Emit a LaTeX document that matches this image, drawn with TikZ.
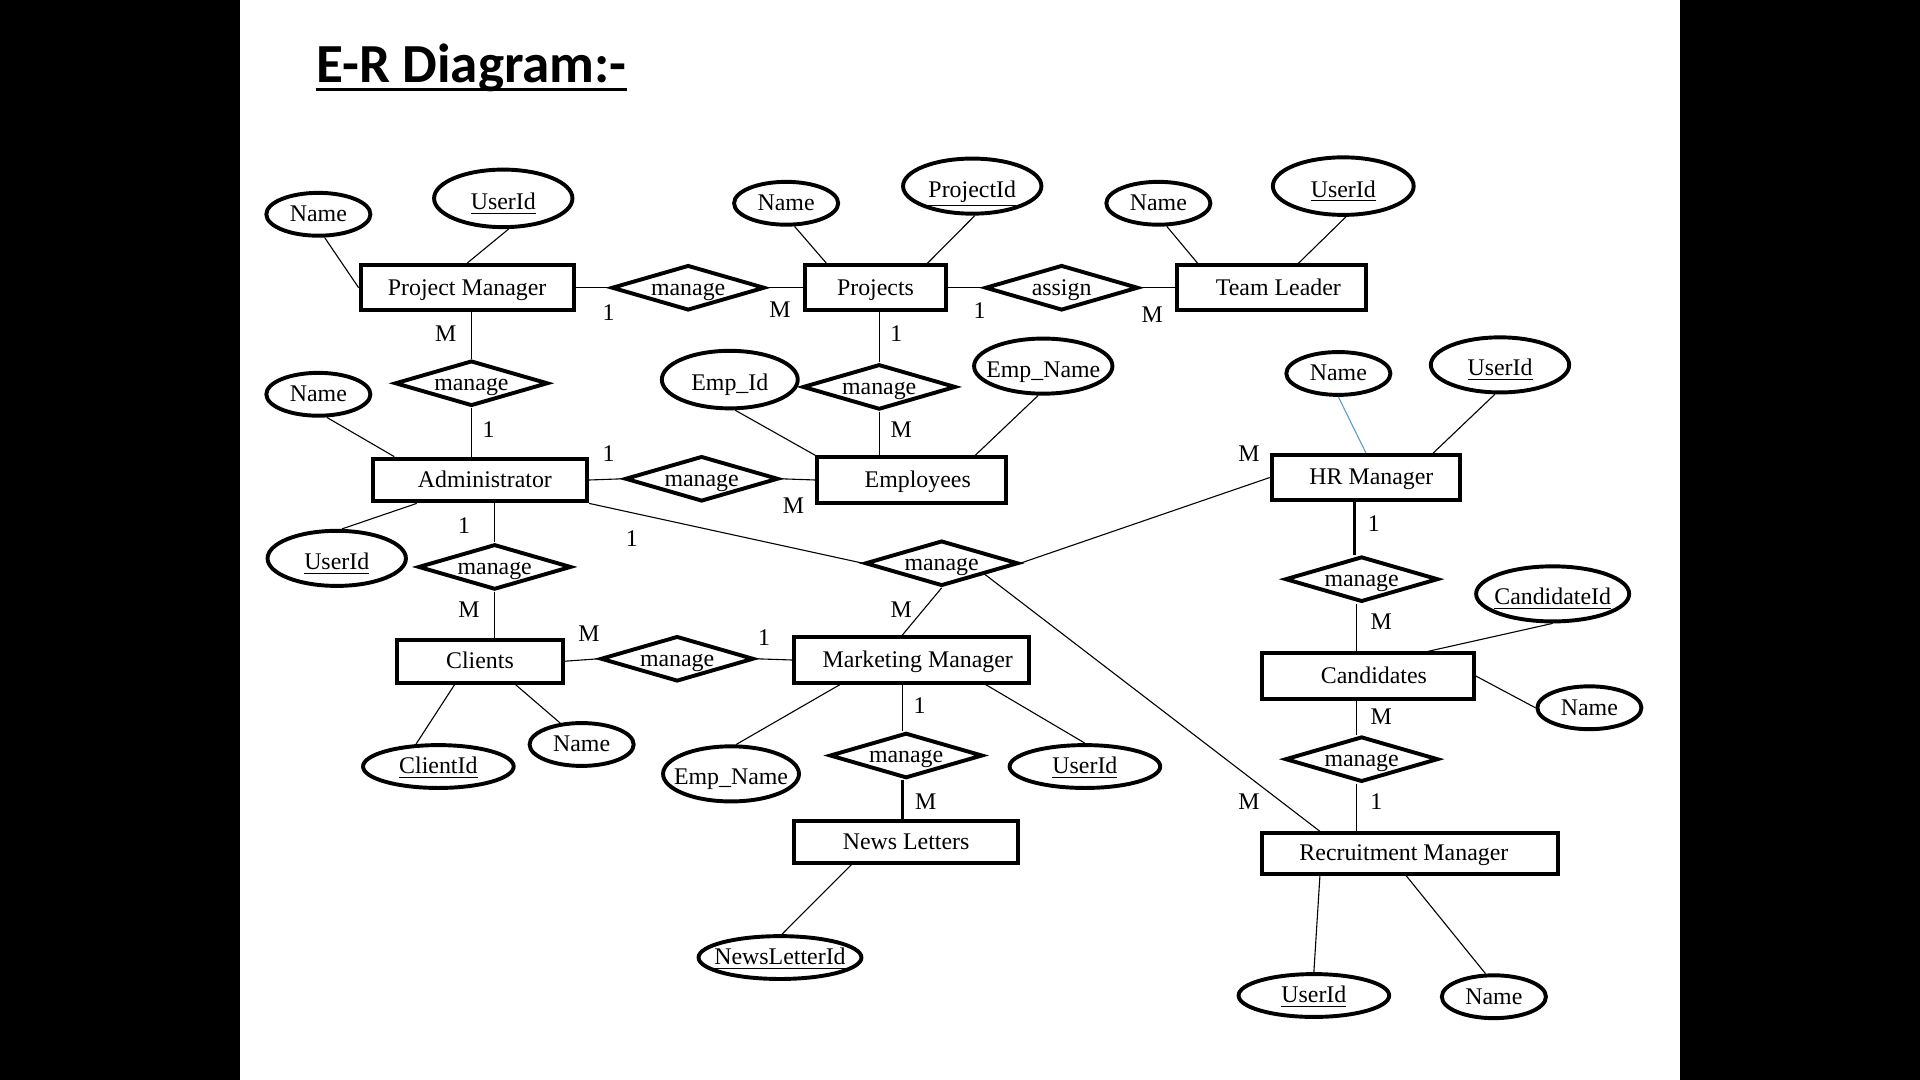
\documentclass[tikz,border=0pt]{standalone}
\usepackage{fontspec}
\setmainfont{Liberation Serif}
\newfontfamily\titlefont{Carlito}
\usetikzlibrary{shapes.geometric,calc}
\newcommand\zb[1]{\makebox[0pt]{#1}}
\newcommand\sh[2]{\hbox to 0pt{\hss\kern#1\kern#1 #2\hss}}
\definecolor{hrblue}{RGB}{91,155,213}
\begin{document}
\begin{tikzpicture}[x=0.5pt,y=-0.5pt,
 every node/.style={font=\fontsize{9.75}{11}\selectfont, text height=7.3pt, text depth=1.3pt},
 ent/.style={draw, rectangle, line width=1.6pt, inner sep=0pt},
 rel/.style={draw, diamond, aspect=3.4, line width=1.6pt, inner sep=0pt, minimum width=62.5pt, minimum height=18.5pt},
 att/.style={draw, ellipse, line width=1.6pt, inner sep=0pt},
 big/.style={att, text height=10.3pt},
 sm/.style={att, minimum width=42.5pt, minimum height=17.5pt},
 lnk/.style={line width=0.45pt},
 card/.style={inner sep=0pt}]

\useasboundingbox (0,0) rectangle (1568,882);
\fill[white] (0,0) rectangle (1568,882);
\fill[black] (0,0) rectangle (196,882);
\fill[black] (1372,0) rectangle (1568,882);

% title
\node[anchor=base west, inner sep=0pt, text height=, text depth=, font=\titlefont\bfseries\fontsize{22.5}{26}\selectfont] (title) at (258,67) {E-R Diagram:-};
\draw[line width=1.3pt] ($(title.base west)+(0,6)$) -- ($(title.base east)+(0,6)$);

% entities
\node[ent, minimum width=87pt, minimum height=18.5pt] (pm) at (381.5,235) {Project Manager};
\node[ent, minimum width=57.5pt, minimum height=18.5pt] (proj) at (715,235) {Projects};
\node[ent, minimum width=77pt, minimum height=18.5pt] (tl) at (1038.5,235) {\sh{2.75pt}{Team Leader}};
\node[ent, minimum width=87.5pt, minimum height=17.5pt] (adm) at (392,392) {\sh{2pt}{Administrator}};
\node[ent, minimum width=77pt, minimum height=18.5pt] (emp) at (744.5,392) {\sh{2.5pt}{Employees}};
\node[ent, minimum width=77pt, minimum height=18.5pt] (hr) at (1115.5,390) {\sh{2.25pt}{HR Manager}};
\node[ent, minimum width=67.5pt, minimum height=17.5pt] (cl) at (392,540) {Clients};
\node[ent, minimum width=96pt, minimum height=18.5pt] (mm) at (744.5,539) {\sh{2.5pt}{Marketing Manager}};
\node[ent, minimum width=86.5pt, minimum height=18.5pt] (cand) at (1117,552) {\sh{2.5pt}{Candidates}};
\node[ent, minimum width=91.5pt, minimum height=17pt] (nl) at (740,687.5) {News Letters};
\node[ent, minimum width=121pt, minimum height=16.5pt] (rm) at (1151.5,697) {\sh{-2.5pt}{Recruitment Manager}};

% relationships
\node[rel] (r1) at (562,235) {manage};
\node[rel] (ras) at (867,235) {assign};
\node[rel] (r2) at (385,313) {manage};
\node[rel] (r3) at (718,316) {manage};
\node[rel] (r4) at (573,391) {manage};
\node[rel] (r5) at (404,463) {manage};
\node[rel] (r6) at (769,460) {manage};
\node[rel] (r7) at (1112,473) {manage};
\node[rel] (r9) at (553,538) {manage};
\node[rel] (r10) at (740,617) {manage};
\node[rel] (r8) at (1112,620) {manage};

% attributes
\node[sm] (pmn) at (260,175) {\zb{Name}};
\node[big, minimum width=56.5pt, minimum height=23.5pt] (pmu) at (411,162) {\zb{\underline{UserId}}};
\node[sm] (pn) at (642,166) {\zb{Name}};
\node[big, minimum width=56.5pt, minimum height=22.5pt] (pid) at (794,152) {\zb{\underline{ProjectId}}};
\node[sm] (tln) at (946,166) {\zb{Name}};
\node[big, minimum width=57.5pt, minimum height=23.5pt] (tlu) at (1097,152) {\zb{\underline{UserId}}};
\node[sm] (an) at (260,322) {\zb{Name}};
\node[big, minimum width=55.5pt, minimum height=23.5pt] (eid) at (596,310) {\zb{Emp\_Id}};
\node[big, minimum width=56.5pt, minimum height=22.5pt] (en) at (852,299) {\zb{Emp\_Name}};
\node[sm] (hrn) at (1093,305) {\zb{Name}};
\node[big, minimum width=56.5pt, minimum height=22.5pt] (hru) at (1225,298) {\zb{\underline{UserId}}};
\node[big, minimum width=56.5pt, minimum height=22.5pt] (auid) at (275,456) {\zb{\underline{UserId}}};
\node[big, minimum width=62.5pt, minimum height=22.5pt] (cid) at (1268,485) {\zb{\underline{CandidateId}}};
\node[att, minimum width=61.5pt, minimum height=17.5pt] (clid) at (358,626) {\zb{\underline{ClientId}}};
\node[sm] (cln) at (475,608) {\zb{Name}};
\node[big, minimum width=55.5pt, minimum height=22.5pt] (men) at (597,632) {\zb{Emp\_Name}};
\node[att, minimum width=61.5pt, minimum height=17.5pt] (mmu) at (886,626) {\zb{\underline{UserId}}};
\node[sm] (cn) at (1298,578) {\zb{Name}};
\node[att, minimum width=66.5pt, minimum height=17.5pt] (nlid) at (637,782) {\zb{\underline{NewsLetterId}}};
\node[att, minimum width=61.5pt, minimum height=17.5pt] (rmu) at (1073,813) {\zb{\underline{UserId}}};
\node[sm] (rmn) at (1220,814) {\zb{Name}};

% connectors
\draw[lnk] (pmn.-75) -- (pm.west);
\draw[lnk] (pmu.-80) -- (pm.north);
\draw[lnk] (pm.east) -- (r1.west);
\draw[lnk] (r1.east) -- (proj.west);
\draw[lnk] (pn.-70) -- ($(proj.north west)!0.16!(proj.north east)$);
\draw[lnk] (pid.-85) -- ($(proj.north west)!0.86!(proj.north east)$);
\draw[lnk] (proj.east) -- (ras.west);
\draw[lnk] (ras.east) -- (tl.west);
\draw[lnk] (tln.-70) -- ($(tl.north west)!0.115!(tl.north east)$);
\draw[lnk] (tlu.-85) -- ($(tl.north west)!0.64!(tl.north east)$);
\draw[lnk] (r2.north) -- (r2.north |- pm.south);
\draw[lnk] (r2.south) -- (r2.south |- adm.north);
\draw[lnk] (r3.north) -- (r3.north |- proj.south);
\draw[lnk] (r3.south) -- (r3.south |- emp.north);
\draw[lnk] (eid.-80) -- (emp.north west);
\draw[lnk] (en.-100) -- ($(emp.north west)!0.83!(emp.north east)$);
\draw[lnk] (an.-70) -- ($(adm.north west)!0.107!(adm.north east)$);
\draw[lnk] (adm.east) -- (r4.west);
\draw[lnk] (r4.east) -- (emp.west);
\draw[lnk] (auid.80) -- ($(adm.south west)!0.21!(adm.south east)$);
\draw[lnk] (r5.north) -- (r5.north |- adm.south);
\draw[lnk] (r5.south) -- (r5.south |- cl.north);
\draw[lnk] (adm.south east) -- (r6.west);
\draw[lnk] (hr.west) -- (r6.east);
\draw[lnk] (r6.south) -- ($(mm.north west)!0.46!(mm.north east)$);
\draw[lnk] ($(r6.south)!0.55!(r6.east)$) -- ($(rm.north west)!0.2!(rm.north east)$);
\draw[lnk, hrblue] (hrn.south) -- (hr.north);
\draw[lnk] (hru.-100) -- ($(hr.north west)!0.85!(hr.north east)$);
\coordinate (r7t) at ($(r7.north)+(-6,0)$);
\draw[line width=1pt] (r7t) -- (r7t |- hr.south);
\coordinate (r7b) at ($(r7.south)+(-4,0)$);
\draw[lnk] (r7b) -- (r7b |- cand.north);
\draw[lnk] (cid.south) -- ($(cand.north west)!0.78!(cand.north east)$);
\draw[lnk] (cand.east) -- (cn.west);
\coordinate (r8t) at ($(r8.north)+(-4,0)$);
\draw[lnk] (r8t) -- (r8t |- cand.south);
\coordinate (r8b) at ($(r8.south)+(-4,0)$);
\draw[lnk] (r8b) -- (r8b |- rm.north);
\draw[lnk] ($(rm.south west)!0.2!(rm.south east)$) -- (rmu.north);
\draw[lnk] ($(rm.south west)!0.487!(rm.south east)$) -- (rmn.110);
\draw[lnk] (cl.east) -- (r9.west);
\draw[lnk] (r9.east) -- (mm.west);
\draw[lnk] ($(cl.south west)!0.35!(cl.south east)$) -- (clid.135);
\draw[lnk] ($(cl.south west)!0.71!(cl.south east)$) -- (cln.135);
\draw[lnk] ($(mm.south west)!0.2!(mm.south east)$) -- (men.80);
\draw[lnk] ($(mm.south west)!0.81!(mm.south east)$) -- (mmu.north);
\coordinate (r10t) at ($(r10.north)+(-3,0)$);
\draw[lnk] (r10t) -- (r10t |- mm.south);
\coordinate (r10b) at ($(r10.south)+(-3,0)$);
\draw[line width=1pt] (r10b) -- (r10b |- nl.north);
\draw[lnk] ($(nl.south west)!0.26!(nl.south east)$) -- (nlid.85);

% cardinalities
\node[card] (c1) at (497,256) {1};
\node[card] (c2) at (637,253) {M};
\node[card] (c3) at (800,254) {1};
\node[card] (c4) at (941,257) {M};
\node[card] (c5) at (364,273) {M};
\node[card] (c6) at (399,351) {1};
\node[card] (c7) at (732,273) {1};
\node[card] (c8) at (736,351) {M};
\node[card] (c9) at (497,371) {1};
\node[card] (c10) at (648,413) {M};
\node[card] (c11) at (1020,371) {M};
\node[card] (c12) at (379,430) {1};
\node[card] (c13) at (383,498) {M};
\node[card] (c14) at (516,440) {1};
\node[card] (c15) at (1122,428) {1};
\node[card] (c16) at (1128,508) {M};
\node[card] (c17) at (736,498) {M};
\node[card] (c18) at (481,518) {M};
\node[card] (c19) at (624,521) {1};
\node[card] (c20) at (1128,586) {M};
\node[card] (c21) at (1124,655) {1};
\node[card] (c22) at (751,577) {1};
\node[card] (c23) at (756,655) {M};
\node[card] (c24) at (1020,655) {M};
\end{tikzpicture}
\end{document}
